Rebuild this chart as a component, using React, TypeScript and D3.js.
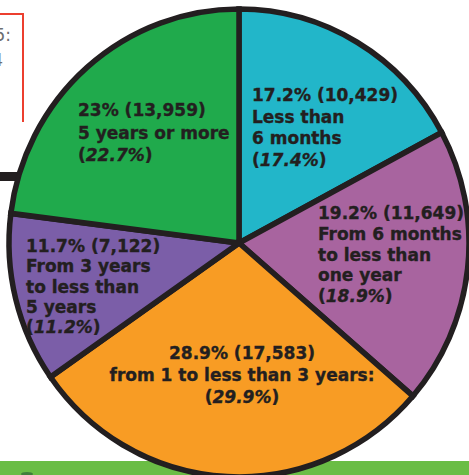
import React from "react";
import * as d3 from "d3";

const categories = [
  "Less than 6 months",
  "From 6 months to less than one year",
  "from 1 to less than 3 years:",
  "From 3 years to less than 5 years",
  "5 years or more",
];
const counts = [10429, 11649, 17583, 7122, 13959];
const percents = ["17.2", "19.2", "28.9", "11.7", "23"];
const prevPercents = ["17.4", "18.9", "29.9", "11.2", "22.7"];
const labelLines = [
  ["Less than", "6 months"],
  ["From 6 months", "to less than", "one year"],
  ["from 1 to less than 3 years:"],
  ["From 3 years", "to less than", "5 years"],
  ["5 years or more"],
];
const colors = ["#22b6c9", "#a8649f", "#f89c24", "#7b5ea8", "#20aa4c"];

// label layout (pixel anchors)
const labelLayout = [
  { x: 252, y: 101, step: 21.7, anchor: "start" },
  { x: 318, y: 219, step: 20.8, anchor: "start" },
  { x: 242, y: 359, step: 22, anchor: "middle" },
  { x: 26, y: 252, step: 20.3, anchor: "start" },
  { x: 78, y: 116, step: 22.5, anchor: "start" },
];

const W = 469;
const H = 475;
const INK = "#231f20";

export default function App() {
  const cx = 239;
  const cy = 243;
  const R = 230;
  const pie = d3.pie<number>().sort(null).value((d) => d);
  const arcs = pie(counts);
  const arc = d3.arc<d3.PieArcDatum<number>>().innerRadius(0).outerRadius(R);
  const fmt = d3.format(",");
  const font = "'DejaVu Sans', sans-serif";

  return (
    <svg
      width={W}
      height={H}
      style={{ position: "absolute", left: 0, top: 0, background: "#fff" }}
    >
      {/* partial red box top-left */}
      <polyline points="0,14 23,14 23,122" fill="none" stroke="#ec3f2f" strokeWidth={2} />
      <text x={11} y={41} textAnchor="end" fontFamily={font} fontSize={17} fill="#6d6e71">5:</text>
      <text x={3} y={66} textAnchor="end" fontFamily={font} fontSize={17} fill="#6d6e71">4</text>
      {/* black bar behind pie */}
      <rect x={0} y={172} width={120} height={9} fill={INK} />
      {/* green bottom band */}
      <rect x={0} y={461} width={W} height={H - 461} fill="#6abd45" />
      <ellipse cx={27} cy={474} rx={6} ry={2} fill="#3f7f3a" />
      <g transform={`translate(${cx},${cy}) scale(1,${236 / 232})`}>
        {arcs.map((a, i) => (
          <path
            key={categories[i]}
            d={arc(a) || ""}
            fill={colors[i]}
            stroke={INK}
            strokeWidth={5.5}
            strokeLinejoin="miter"
          />
        ))}
        <circle r={R} fill="none" stroke={INK} strokeWidth={3.5} />
      </g>
      {labelLayout.map((L, i) => {
        const lines: React.ReactNode[] = [];
        lines.push(
          <tspan key="h" x={L.x} y={L.y}>
            {`${percents[i]}% (${fmt(counts[i])})`}
          </tspan>
        );
        labelLines[i].forEach((ln, j) => {
          lines.push(
            <tspan key={"l" + j} x={L.x} y={L.y + L.step * (j + 1)}>
              {ln}
            </tspan>
          );
        });
        const n = labelLines[i].length + 1;
        lines.push(
          <tspan key="p" x={L.x} y={L.y + L.step * n}>
            (<tspan fontStyle="italic">{prevPercents[i]}%</tspan>)
          </tspan>
        );
        return (
          <text
            key={i}
            fontFamily={font}
            fontWeight="bold"
            fontSize={17}
            fill={INK}
            stroke={INK}
            strokeWidth={0.35}
            textAnchor={L.anchor as any}
          >
            {lines}
          </text>
        );
      })}
    </svg>
  );
}
